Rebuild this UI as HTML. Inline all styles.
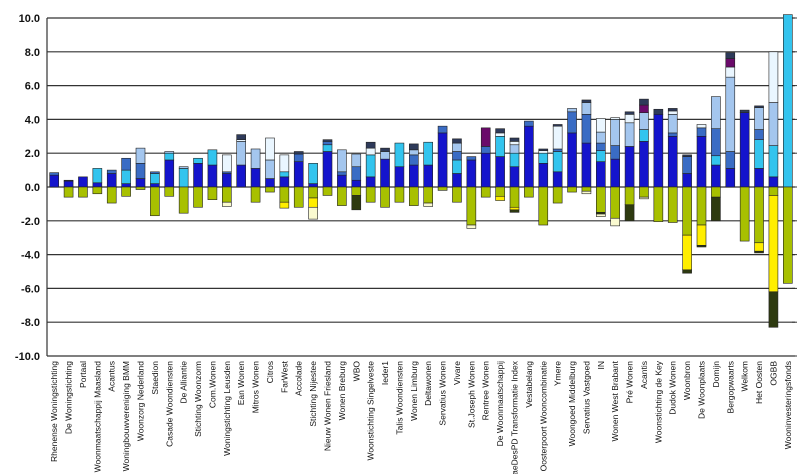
<!DOCTYPE html>
<html><head><meta charset="utf-8"><style>
html,body{margin:0;padding:0;background:#fff;width:800px;height:474px;overflow:hidden}
svg{display:block}
</style></head><body>
<svg id="chart" width="800" height="474" xmlns="http://www.w3.org/2000/svg" font-family="Liberation Sans, sans-serif"></svg>
<script>
const categories=["Rhenense Woningstichting","De Woningstichting","Portaal","Woonmaatschappij Maasland","Acantus","Woningbouwvereniging BMM","Woonzorg Nederland","Staedion","Casade Woondiensten","De Alliantie","Stichting Woonzorm","Com.Wonen","Woningstichting Leusden","Ean Wonen","Mitros Wonen","Citros","FarWest","Accolade","Stichting Nijestee","Nieuw Wonen Friesland","Wonen Breburg","WBO","Woonstichting Singelveste","Ieder1","Talis Woondiensten","Wonen Limburg","Deltawonen","Servatius Wonen","Vivare","St.Joseph Wonen","Rentree Wonen","De Woonmaatschappij","aeDesPD Transformatie Index","Vestabelang","Oosterpoort Wooncombinatie","Ymere","Woongoed Middelburg","Servatius Vastgoed","IN","Wonen West Brabant","Pré Wonen","Acantis","Woonstichting de Key","Dudok Wonen","Woonbron","De Woonplaats","Domijn","Bergopwaarts","Welkom","Het Oosten","OGBB","Wooninvesteringsfonds"];
const darkBlue=[.7,.35,.6,.25,.8,.2,.5,.2,1.6,0,1.4,1.3,.8,1.3,1.1,.5,.6,1.5,.2,2.1,.7,.4,.6,1.65,1.2,1.3,1.3,3.2,.8,1.6,2.0,1.8,1.2,3.6,1.4,.9,3.2,2.6,1.5,1.65,2.4,2.7,4.3,3.0,.8,3.0,1.3,1.1,4.4,1.1,.6,0];
const cyanSeries=[0,0,0,.85,0,.8,0,.6,.4,1.1,.3,.9,0,0,0,0,.3,0,1.2,.4,0,0,1.3,0,1.4,0,1.35,0,.8,0,0,1.2,.8,0,.6,1.2,0,0,.65,0,0,.7,0,0,0,0,.55,0,0,1.7,1.85,10.2];
const midBlue=[.15,0,0,0,.2,.7,.9,.1,0,0,0,0,.1,0,0,0,0,.45,0,.2,.2,.8,0,0,0,.6,0,.4,.5,.2,.4,0,0,.3,0,.15,1.25,1.7,.45,.8,0,0,0,.2,1.0,.5,1.6,1.0,0,.6,0,0];
const lightBlue=[0,0,0,0,0,0,.9,0,.1,.1,0,0,0,1.4,1.15,1.1,0,0,0,0,1.3,.75,0,.45,0,.3,0,0,.5,0,0,0,.5,0,0,0,.2,.7,.65,1.55,1.4,1.0,0,1.1,0,0,1.9,4.4,0,1.3,2.55,0];
const paleBlue=[0,0,0,0,0,0,0,0,0,0,0,0,1.0,.1,0,1.3,1.0,0,0,0,0,0,.4,0,0,0,0,0,0,0,0,.2,.2,0,.15,1.35,0,0,.8,.1,.5,0,0,.2,0,.2,0,.6,0,0,3.0,0];
const purpleSeries=[0,0,0,0,0,0,0,0,0,0,0,0,0,0,0,0,0,0,0,0,0,0,0,0,0,0,0,0,0,0,1.1,0,0,0,0,0,0,0,0,0,0,.45,0,0,0,0,0,.5,0,0,0,0];
const capSeries=[0,.05,0,0,0,0,0,0,0,0,0,0,0,.3,0,0,0,.15,0,.1,0,0,.35,.2,0,.35,0,0,.25,0,0,.25,.2,0,.1,.1,0,.15,0,0,.15,.35,.3,.15,.1,0,0,.35,.15,.1,0,0];
const greenNeg=[0,.6,.6,.4,.95,.55,.15,1.7,.55,1.55,1.2,.75,.9,0,.9,.3,.9,1.2,.65,.5,1.1,.5,.9,1.2,.9,1.1,.95,.2,.9,2.25,.6,.55,1.2,.6,2.25,.95,.3,.25,1.5,1.85,1.05,.6,2.05,2.1,2.85,2.25,.6,0,3.2,3.3,.5,5.7];
const yellowNeg=[0,0,0,0,0,0,0,0,0,0,0,0,0,0,0,0,.35,0,.55,0,0,0,0,0,0,0,0,0,0,0,0,.25,.15,0,0,0,0,0,0,0,0,0,0,0,2.05,1.2,0,0,0,.5,5.7,0];
const darkGreenNeg=[0,0,0,0,0,0,0,0,0,0,0,0,0,0,0,0,0,0,0,0,0,.85,0,0,0,0,0,0,0,0,0,0,.15,0,0,0,0,0,.1,0,.95,0,0,0,.2,.1,1.4,0,0,.1,2.1,0];
const paleNeg=[0,0,0,0,0,0,0,0,0,0,0,0,.25,0,0,0,0,0,.7,0,0,0,0,0,0,0,.2,0,0,.2,0,0,0,0,0,0,0,.15,.15,.45,0,.1,0,0,0,0,0,0,0,0,0,0];
const yTicks=[10,8,6,4,2,0,-2,-4,-6,-8,-10];

const svg=document.getElementById('chart');
const NS='http://www.w3.org/2000/svg';
const yMin=-10,yMax=10,top0=18,bot0=356,left0=47,right0=795;
function yScale(v){return top0+(yMax-v)/(yMax-yMin)*(bot0-top0);}
const step=(right0-left0)/categories.length;
function xScale(i){return left0+step*(i+0.5);}
function mk(tag,attrs){const e=document.createElementNS(NS,tag);for(const k in attrs)e.setAttribute(k,attrs[k]);svg.appendChild(e);return e;}

yTicks.forEach(t=>{
  const g=mk('line',{x1:left0,x2:right0,y1:yScale(t),y2:yScale(t),stroke:'#333','stroke-width':1.2});
  
  
  const tk=mk('line',{x1:right0-3,x2:right0+2,y1:yScale(t),y2:yScale(t),stroke:'#333','stroke-width':1});
  
  
  const tx=mk('text',{x:40,y:yScale(t)+4,'text-anchor':'end','font-size':11,'font-weight':'bold',fill:'#111'});
  tx.textContent=t.toFixed(1);
  
  
});
const ax=mk('line',{x1:left0,x2:left0,y1:top0,y2:bot0,stroke:'#333','stroke-width':1.2});



const pos=[[darkBlue,'#1414cc'],[cyanSeries,'#33c4ee'],[midBlue,'#3a6cc4'],[lightBlue,'#a4c6ee'],[paleBlue,'#eaf6ff'],[purpleSeries,'#6a0a6a'],[capSeries,'#2e3a5a']];
const neg=[[greenNeg,'#a8c000'],[yellowNeg,'#ffee00'],[darkGreenNeg,'#2e3a10'],[paleNeg,'#fafad0']];
const bw=9;
categories.forEach((c,i)=>{
  const cx=xScale(i);
  let acc=0;
  pos.forEach(([arr,col])=>{
    const v=arr[i]; if(!v) return;
    const r=mk('rect',{x:cx-bw/2,y:yScale(acc+v),width:bw,height:yScale(acc)-yScale(acc+v),fill:col,stroke:'#222','stroke-width':0.6});
    
    
    acc+=v;
  });
  acc=0;
  neg.forEach(([arr,col])=>{
    const v=arr[i]; if(!v) return;
    const r=mk('rect',{x:cx-bw/2,y:yScale(acc),width:bw,height:yScale(acc-v)-yScale(acc),fill:col,stroke:'#222','stroke-width':0.6});
    
    
    acc-=v;
  });
  const t=mk('text',{x:0,y:0,'text-anchor':'end','font-size':8.5,fill:'#111',transform:`translate(${cx+3},361) rotate(-90)`});
  t.textContent=c;
  
  
});
</script>
</body></html>
